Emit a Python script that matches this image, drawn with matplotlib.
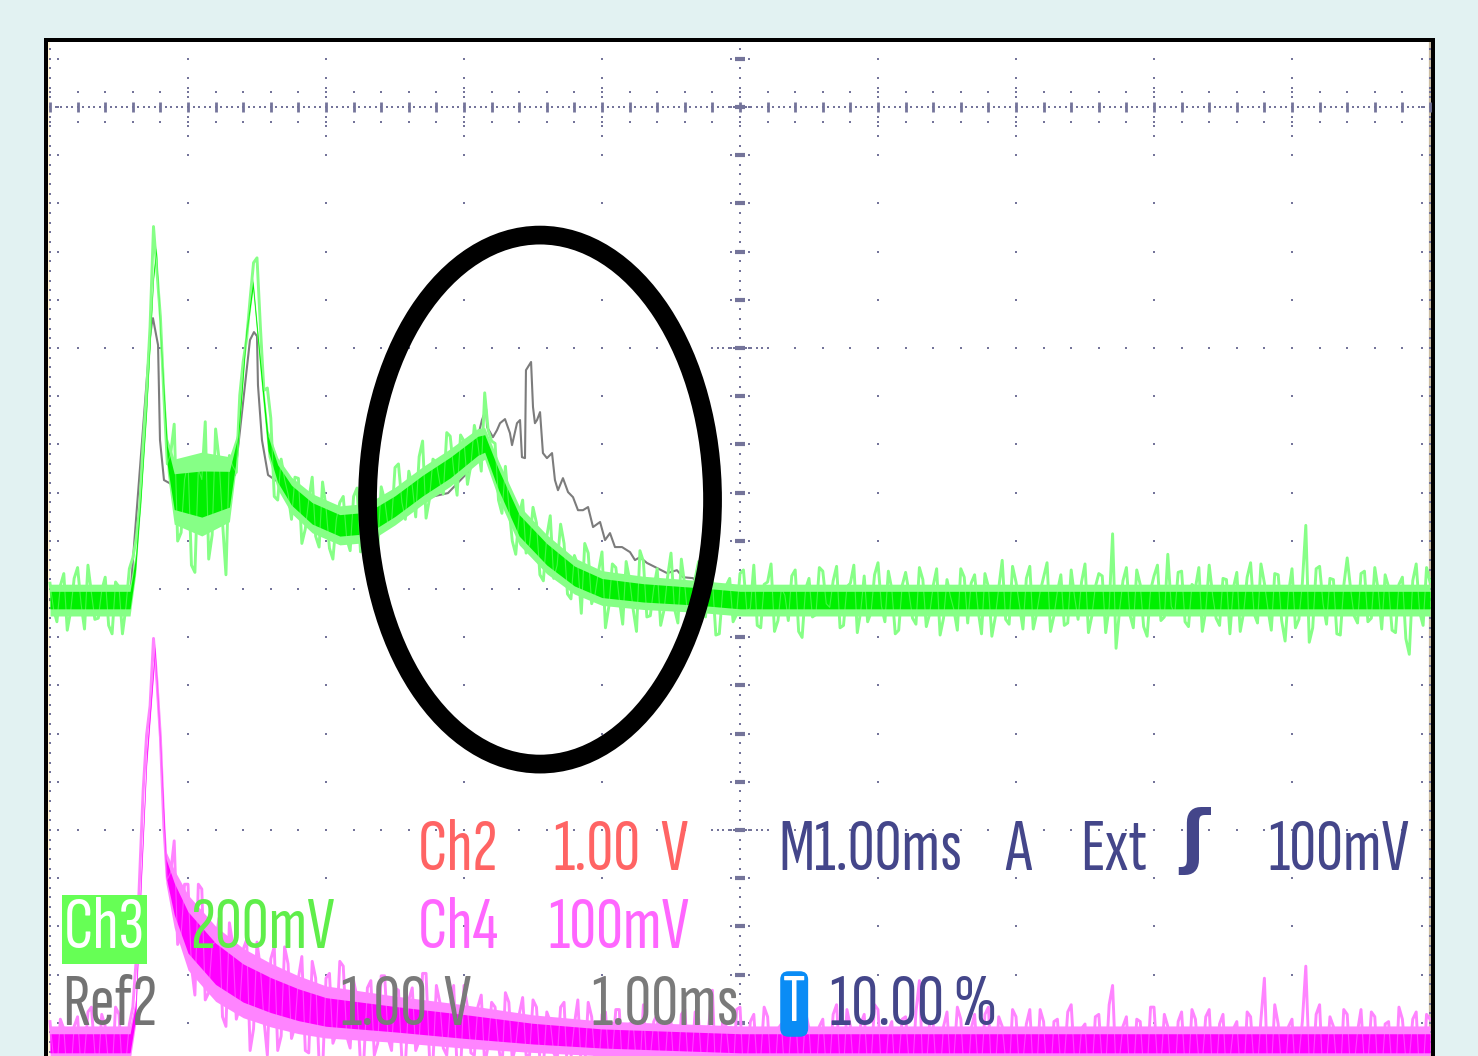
import numpy as np
import matplotlib
matplotlib.use("Agg")
import matplotlib.pyplot as plt
from matplotlib.patches import Ellipse

# ---- screen geometry (pixels) ----
W, H, DPI = 1478, 1056, 100
PX_T0, PX_PER_MS = 50, 138          # left graticule line, 1.00 ms/div
PX_Y0, PX_PER_DIV = 107, 241        # centre graticule row, one vertical division
SCR_L, SCR_R, SCR_T = 48, 1431, 42  # visible screen area

# ---- channel settings ----
CH3_SCALE, CH3_POS = 200.0, -2.046   # mV/div, div
CH4_SCALE, CH4_POS = 100.0, -3.905   # mV/div, div
REF2_SCALE, REF2_POS = 1.0, -2.046   # V/div, div

DT = 0.025  # ms per record point

# Ch3 record (mV)
ch3_mv = [
    14, -7, -18, 12, 22, -25, -9, 18, 27, -3,
    -24, 29, 6, -16, -15, 8, 19, -21, -28, 15,
    11, -28, -6, 26, 35, 51, 77, 130, 173, 227,
    310, 272, 235, 170, 113, 122, 146, 49, 56, 100,
    115, 29, 23, 109, 100, 148, 34, 54, 142, 117,
    65, 21, 120, 111, 106, 170, 198, 217, 250, 280,
    284, 226, 174, 176, 151, 86, 83, 117, 100, 88,
    67, 102, 101, 47, 59, 83, 102, 53, 44, 98,
    77, 43, 34, 67, 81, 86, 51, 41, 86, 93,
    40, 55, 77, 81, 34, 44, 94, 83, 61, 64,
    110, 113, 81, 67, 107, 95, 69, 119, 132, 68,
    84, 117, 114, 97, 88, 139, 136, 108, 87, 137,
    132, 96, 112, 145, 130, 107, 172, 141, 132, 130,
    83, 72, 111, 78, 49, 38, 71, 83, 39, 46,
    77, 64, 21, 16, 53, 70, 18, 29, 63, 47,
    5, 1, 37, 29, -11, 47, 39, -3, 5, 24,
    40, -23, -5, 30, 27, 1, -20, 32, 17, -7,
    -26, 41, 32, -14, -13, 10, 26, -21, -8, 19,
    39, -7, -19, 34, 12, -18, -24, 18, 32, 0,
    -14, 24, 16, -29, -28, 8, 12, 18, -18, -12,
    22, 25, -9, -7, 29, -21, -23, 13, 15, 30,
    -26, -17, 10, 4, -17, 20, 25, -26, -31, 9,
    18, -14, -12, 27, 24, -3, -6, 16, 28, -23,
    -21, 11, 14, 29, -27, -9, 20, -18, -10, 21,
    31, -5, -18, 24, 9, -28, -25, 12, 23, 6,
    -15, -20, 27, 17, -22, -11, 12, 26, -29, -15,
    17, 3, -8, -25, 26, 19, -19, 14, 21, -8,
    -28, 22, 11, -30, -14, 10, 33, -16, -20, 28,
    15, -4, -24, 18, 28, -24, -11, 7, 19, 31,
    -26, -13, 7, 21, -21, -19, 25, 2, -16, 15,
    30, -27, -13, 11, 22, 20, -27, -6, 55, -40,
    -9, 16, 27, -12, -23, 25, 13, -22, -30, 8,
    20, 29, -17, -14, 38, -5, -12, 23, 24, -18,
    -22, 13, 10, 27, -26, -9, 29, 4, -15, -21,
    18, 17, -28, 10, 23, -26, -10, 19, 31, -11,
    -19, 30, 14, -7, -25, 22, 21, -17, -34, 6,
    26, -23, -16, 14, 62, -35, -23, 26, 28, -3,
    -20, 18, 17, -28, -29, 12, 35, 9, -13, -19,
    22, 24, -18, -15, 27, 8, -24, 21, 11, -25,
    -27, 13, 19, -32, -45, 16, 30, -10, -21, 27,
    15]

# Ch3 trace centre and half-width of the bright band
ch3_mid_t = [0, 0.58, 0.62, 0.66, 0.70, 0.75, 0.77, 0.80, 0.85, 0.9, 1.1, 1.3, 1.36, 1.42, 1.47,
             1.52, 1.58, 1.65, 1.75, 1.9, 2.1, 2.3, 2.5, 2.7, 2.9, 3.1, 3.15, 3.25, 3.4, 3.6,
             3.8, 4.0, 4.3, 4.7, 5.0, 10.0]
ch3_mid_mv = [0, 0, 30, 90, 160, 270, 290, 220, 120, 90, 88, 92, 130, 220, 262,
              200, 130, 105, 87, 72, 62, 64, 78, 95, 110, 128, 130, 100, 62, 38,
              20, 10, 6, 3, 0, 0]
ch3_spread_mv = [22, 22, 16, 12, 10, 9, 7, 10, 24, 45, 58, 45, 16, 11, 9,
                 12, 18, 22, 25, 27, 27, 27, 26, 26, 26, 24, 22, 26, 27, 27,
                 25, 24, 23, 22, 22, 22]

# Ch4 record (mV)
ch4_mv = [
    11, -4, -10, 12, 8, -12, -12, 9, 13, -9,
    -3, 15, 17, -2, -8, 14, 9, -7, -11, 17,
    14, -11, -6, 10, 17, 37, 72, 107, 130, 142,
    170, 152, 129, 92, 70, 73, 86, 43, 47, 68,
    68, 34, 22, 68, 66, 20, 23, 43, 44, 54,
    13, 9, 52, 43, 12, 17, 41, 45, -1, 8,
    44, 33, 12, -3, 37, 42, -1, 5, 42, 35,
    4, 9, 29, 38, -1, -2, 36, 29, -6, -10,
    29, 31, 2, 6, 36, 34, 5, 0, 28, 21,
    -7, -4, 25, 28, -3, 2, 30, 30, 4, -1,
    25, 24, -5, -7, 20, 25, -1, 3, 31, 31,
    -4, -6, 26, 19, 0, -3, 17, 26, -9, -11,
    26, 17, -2, -3, 17, 22, -7, 1, 19, 17,
    1, -9, 23, 19, -5, 1, 14, 21, -3, -3,
    20, 17, -5, -8, 15, 11, -2, -5, 17, 19,
    -11, -4, 10, 20, -9, -8, 19, 13, -5, -11,
    14, 15, -5, -3, 16, 16, -11, -12, 10, 11,
    -7, -9, 18, -8, -4, 11, 14, -12, -13, 9,
    11, -13, -10, 14, 16, -7, -6, 15, 12, -9,
    -11, 10, 24, -14, -9, 12, 9, -5, -12, 16,
    17, -11, -7, 11, 14, -8, -4, 17, 13, -10,
    -14, 8, 10, -12, -8, 13, 15, -6, -10, 15,
    8, -14, -12, 9, 12, -9, -7, 14, 18, -7,
    -9, 16, 9, -11, -11, 10, 14, -8, -6, 18,
    16, -10, -13, 7, 11, -13, -5, 12, 13, -6,
    -10, 15, 28, -9, -8, 11, 10, -12, -12, 9,
    15, -8, -4, 17, 12, -11, -14, 8, 14, -7,
    -7, 14, 17, -14, -9, 13, 9, -5, -11, 16,
    13, -9, -6, 10, 16, -10, -10, 16, 11, -13,
    -13, 11, 12, -8, -5, 15, 18, -6, -9, 8,
    10, -12, -11, 13, 14, -7, -8, 18, 26, -10,
    -4, 9, 13, -11, -12, 12, 11, -9, -10, 17,
    17, -6, -7, 14, 9, -14, -14, 11, 15, -8,
    -9, 16, 12, -5, -6, 13, 16, -11, -11, 10,
    14, -13, -5, 8, 11, -10, -13, 15, 13, -7,
    -8, 12, 29, -12, -10, 18, 10, -9, -12, 9,
    12, -11, -4, 11, 34, -6, -9, 14, 18, -14,
    -7, 13, 9, -8, -13, 16, 14, -10, -8, 7,
    16, -7, -6, 15, 13, -13, -11, 10, 11, -9,
    -14, 17, 12, -5, -5, 12, 15, -12, -10, 14,
    12]

ch4_mid_t = [0, 0.58, 0.62, 0.66, 0.70, 0.76, 0.80, 0.84, 0.9, 1.0, 1.2, 1.4, 1.6, 1.8, 2.0,
             2.5, 3.0, 3.5, 4.0, 4.5, 5.0, 10.0]
ch4_mid_mv = [2, 2, 15, 70, 120, 165, 125, 75, 62, 48, 35, 27, 22, 18, 15,
              12, 9, 6, 4, 3, 2, 2]
ch4_spread_mv = [12, 12, 9, 7, 6, 5, 7, 11, 20, 26, 26, 24, 22, 20, 18,
                 16, 15, 13, 12, 12, 12, 12]

# Ref2 stored waveform (V)
ref2_t = [0.00, 0.58, 0.609, 0.725, 0.739, 0.746, 0.783, 0.797, 0.826, 1.087, 1.341, 1.449,
          1.478, 1.500, 1.507, 1.536, 1.580, 1.739, 2.101, 2.406, 2.884, 3.043,
          3.130, 3.160, 3.167, 3.210, 3.239, 3.261, 3.297, 3.333, 3.348, 3.384,
          3.406, 3.420, 3.442, 3.449, 3.486, 3.500, 3.514, 3.529, 3.551, 3.572,
          3.601, 3.638, 3.659, 3.681, 3.717, 3.754, 3.790, 3.826, 3.862, 3.899,
          3.935, 3.986, 4.022, 4.058, 4.094, 4.145, 4.203, 4.239, 4.275, 4.326,
          4.399, 4.471, 4.543, 4.587, 4.659, 4.710, 5.000, 10.0]
ref2_v = [0.00, 0.00, 0.228, 1.091, 1.154, 1.170, 1.058, 0.664, 0.498, 0.415, 0.519, 1.079,
          1.112, 1.095, 0.892, 0.664, 0.519, 0.456, 0.365, 0.382, 0.444, 0.539,
          0.747, 0.793, 0.718, 0.676, 0.705, 0.734, 0.751, 0.693, 0.643, 0.734,
          0.747, 0.593, 0.589, 0.954, 0.988, 0.801, 0.734, 0.747, 0.780, 0.610,
          0.589, 0.610, 0.498, 0.456, 0.506, 0.448, 0.427, 0.373, 0.373, 0.386,
          0.303, 0.324, 0.249, 0.278, 0.220, 0.220, 0.199, 0.166, 0.178, 0.154,
          0.133, 0.112, 0.124, 0.095, 0.091, 0.062, 0.021, 0.00]

# ---- colours ----
BG = "#E2F2F2"
GRID = "#74749A"
GREEN_L, GREEN_D = "#86FF86", "#00F000"
MAG_L, MAG_D = "#FF84FF", "#FF00FF"
REF_GRAY = "#7C7C7C"
NAVY = "#44468A"

FONT = ["Sofia Sans Extra Condensed", "DejaVu Sans"]
FS = 54
HALO = 0.6   # share of the band filled solid at low intensity
CORE = 0.33  # share of the band drawn at full intensity


def ch3_y(v):
    return CH3_POS + np.asarray(v, float) / CH3_SCALE


def ch4_y(v):
    return CH4_POS + np.asarray(v, float) / CH4_SCALE


def blank(a):
    a.set_xticks([])
    a.set_yticks([])
    for s in a.spines.values():
        s.set_visible(False)


def draw_trace(t, rec, mid_t, mid, spread, to_y, light, dark, z):
    mid = np.asarray(mid, float)
    spread = np.asarray(spread, float)
    ax.fill_between(mid_t, to_y(mid - HALO * spread), to_y(mid + HALO * spread),
                    color=light, lw=0, zorder=z)
    ax.plot(t, to_y(rec), color=light, lw=2.1, zorder=z + 0.1)
    ax.fill_between(mid_t, to_y(mid - CORE * spread), to_y(mid + CORE * spread),
                    color=dark, lw=0, zorder=z + 0.2)
    ax.plot(t, to_y(rec), color=light, lw=0.8, alpha=0.5, zorder=z + 0.3)


fig = plt.figure(figsize=(W / DPI, H / DPI), dpi=DPI, facecolor=BG)

# black bezel round the screen
bezel = fig.add_axes([44 / W, 0, (1435 - 44) / W, 1 - 38 / H])
bezel.set_facecolor("black")
blank(bezel)

ax = fig.add_axes([SCR_L / W, 0, (SCR_R - SCR_L) / W, 1 - SCR_T / H])
ax.set_facecolor("white")
ax.set_xlim((SCR_L - PX_T0) / PX_PER_MS, (SCR_R - PX_T0) / PX_PER_MS)
ax.set_ylim((PX_Y0 - H) / PX_PER_DIV, (PX_Y0 - SCR_T) / PX_PER_DIV)
blank(ax)

# ---- graticule ----
ax.axvline(-0.008, color="#FFF4CF", lw=1.2, zorder=0.5)
ax.axvline(10.0, color="#CBBDA3", lw=1.6, zorder=0.5)
dot = dict(ls="none", marker="s", ms=2.0, mew=0, color=GRID, zorder=1)

rows = np.arange(-19, 2) * 0.2
near_centre = np.array([-0.12, -0.08, -0.04, 0.04, 0.08, 0.12])
for k in range(1, 10):
    if k == 5:
        continue
    ax.plot(np.full(rows.size, k), rows, **dot)
    ax.plot(np.full(near_centre.size, k), near_centre, **dot)

major_x = np.arange(0, 51) * 0.2
for yr in (-1, -2, -3):
    ax.plot(major_x, np.full(major_x.size, yr), **dot)
    xs = 5 + np.array([-0.16, -0.12, -0.08, -0.04, 0.04, 0.08, 0.12, 0.16])
    ax.plot(xs, np.full(xs.size, yr), **dot)

# centre row with fine ticks
fine_x = np.arange(0, 251) * 0.04
ax.plot(fine_x, np.zeros(fine_x.size), **dict(dot, ms=1.6))
ax.plot(major_x, np.zeros(major_x.size), ls="none", marker="|", ms=7, mew=2.0, color=GRID, zorder=1)
ax.plot(major_x, np.full(major_x.size, 0.064), **dot)
ax.plot(major_x, np.full(major_x.size, -0.064), **dot)

# centre column and screen edges with fine ticks
fine_y = np.arange(-99, 7) * 0.04
for xc in (0, 5, 10):
    ax.plot(np.full(fine_y.size, xc), fine_y, **dict(dot, ms=1.8))
ax.plot(np.full(rows.size, 5), rows, ls="none", marker="_", ms=7, mew=3.0, color=GRID, zorder=1)
for dx in (-0.065, 0.065):
    ax.plot(np.full(rows.size, 5 + dx), rows, **dot)
ax.plot(np.full(rows.size, 0.055), rows, **dot)
ax.plot(np.full(rows.size, 9.945), rows, **dot)

# ---- traces ----
t3 = np.arange(len(ch3_mv)) * DT
t4 = np.arange(len(ch4_mv)) * DT

ax.plot(ref2_t, REF2_POS + np.asarray(ref2_v) / REF2_SCALE, color=REF_GRAY, lw=1.5, zorder=2)
draw_trace(t4, ch4_mv, ch4_mid_t, ch4_mid_mv, ch4_spread_mv, ch4_y, MAG_L, MAG_D, 3)
draw_trace(t3, ch3_mv, ch3_mid_t, ch3_mid_mv, ch3_spread_mv, ch3_y, GREEN_L, GREEN_D, 4)

# ring drawn round the Ref2 burst
ax.add_patch(Ellipse((3.551, -1.629), width=2.50, height=2.195, fill=False,
                     ec="black", lw=13.5, zorder=6))


# ---- readouts ----
def readout(x, y, s, color, **kw):
    fig.text(x / W, 1 - y / H, s, color=color, fontsize=kw.pop("fontsize", FS),
             family=kw.pop("family", FONT), ha="left", va="baseline", **kw)


readout(418, 870, "Ch2", "#FF6464")
readout(553, 870, "1.00", "#FF6464")
readout(660, 870, "V", "#FF6464")
readout(778, 870, "M1.00ms", NAVY)
readout(1005, 870, "A", NAVY)
readout(1080, 870, "Ext", NAVY)
readout(1180, 860, "ʃ", NAVY, family=["DejaVu Sans"], fontsize=50, fontweight="bold")
readout(1268, 870, "100mV", NAVY)

readout(64, 948, "Ch3", "white",
        bbox=dict(boxstyle="square,pad=0.03", fc="#66FF55", ec="none"))
readout(190, 948, "200mV", "#5FEE4A")
readout(418, 948, "Ch4", "#FF66FF")
readout(548, 948, "100mV", "#FF66FF")

readout(62, 1025, "Ref2", "#737373")
readout(340, 1025, "1.00", "#7A7A7A")
readout(443, 1025, "V", "#7A7A7A")
readout(591, 1025, "1.00ms", "#7A7A7A")
readout(783, 1021, "T", "white", fontsize=50, fontweight="bold",
        bbox=dict(boxstyle="round,pad=0.04,rounding_size=0.12", fc="#0A8CF5", ec="none"))
readout(830, 1025, "10.00 %", NAVY)

fig.savefig("out.png", dpi=DPI, facecolor=BG)
